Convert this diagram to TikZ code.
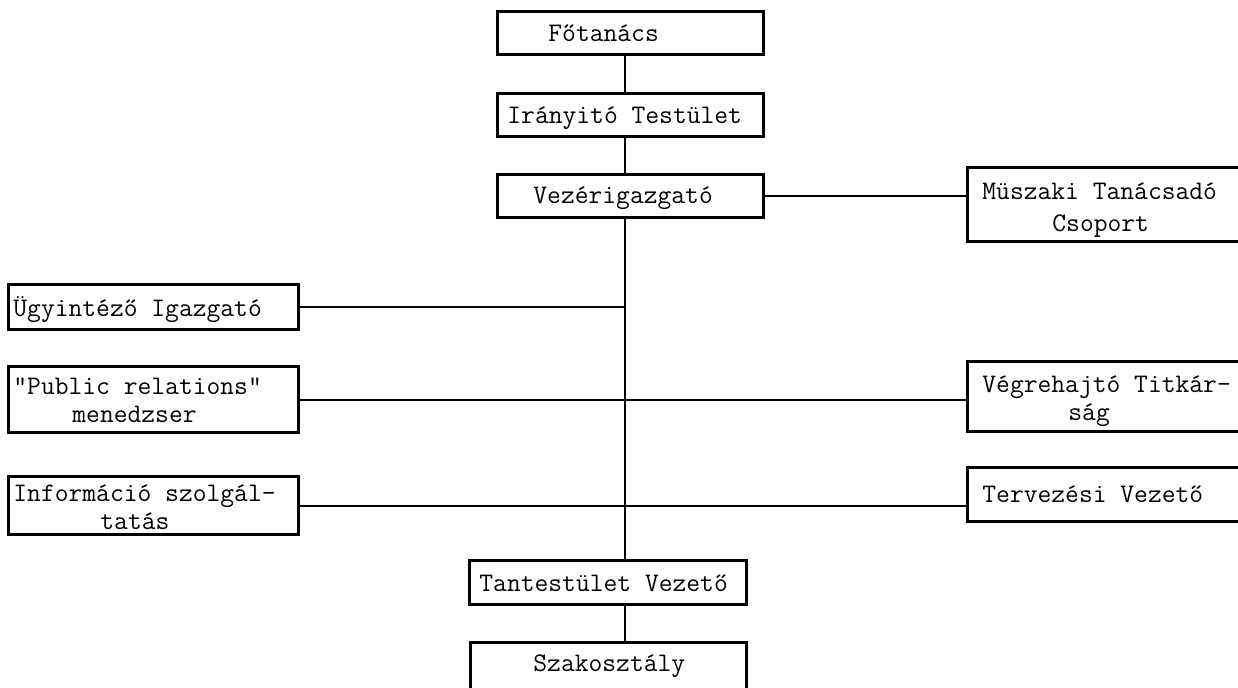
\documentclass[tikz,border=0pt]{standalone}
\usetikzlibrary{fit}
\begin{document}
\begin{tikzpicture}[x=0.5pt,y=-0.5pt,
  box/.style={draw,line width=1.5pt,inner sep=0pt,rectangle},
  lbl/.style={anchor=base west,inner sep=0pt,font=\ttfamily\fontsize{13.4}{16}\selectfont},
  conn/.style={line width=1pt}]
\useasboundingbox (0,0) rectangle (1238,688);
% boxes
\node[box,fit={(497,12) (763,55)}] (fo) {};
\node[box,fit={(497,94) (763,137)}] (ir) {};
\node[box,fit={(497,175) (763,218)}] (vez) {};
\node[box,fit={(967,168) (1250,242)}] (mus) {};
\node[box,fit={(967,362) (1250,432)}] (vegr) {};
\node[box,fit={(967,468) (1250,522)}] (terv) {};
\node[box,fit={(8,285) (298,330)}] (ugy) {};
\node[box,fit={(8,367) (298,433)}] (pr) {};
\node[box,fit={(8,477) (298,535)}] (info) {};
\node[box,fit={(469,561) (746,605)}] (tant) {};
\node[box,fit={(470,643) (746,700)}] (szak) {};
% texts
\node[lbl] (fo-t) at (548,42) {Főtanács};
\node[lbl] (ir-t) at (507,123.5) {Irányitó Testület};
\node[lbl] (vez-t) at (533,204) {Vezérigazgató};
\node[lbl] (mus-t1) at (982,200) {Müszaki Tanácsadó};
\node[lbl] (mus-t2) at (1052,232) {Csoport};
\node[lbl] (vegr-t1) at (982,393) {Végrehajtó Titkár-};
\node[lbl] (vegr-t2) at (1068,421) {ság};
\node[lbl] (terv-t) at (982,503) {Tervezési Vezető};
\node[lbl] (ugy-t) at (13,317) {Ügyintéző Igazgató};
\node[lbl] (pr-t1) at (13,395) {"Public relations"};
\node[lbl] (pr-t2) at (72,423) {menedzser};
\node[lbl] (info-t1) at (13,502) {Információ szolgál-};
\node[lbl] (info-t2) at (100,530) {tatás};
\node[lbl] (tant-t) at (479,592) {Tantestület Vezető};
\node[lbl] (szak-t) at (533,672) {Szakosztály};
% connectors
\coordinate (sp) at (625,0);
\draw[conn] (fo.south -| sp) -- (ir.north -| sp);
\draw[conn] (ir.south -| sp) -- (vez.north -| sp);
\draw[conn] (vez.south -| sp) -- (tant.north -| sp);
\draw[conn] (tant.south -| sp) -- (szak.north -| sp);
\draw[conn] (vez.east) -- (vez.east -| mus.west);
\draw[conn] (ugy.east) -- (ugy.east -| sp);
\draw[conn] (pr.east) -- (pr.east -| vegr.west);
\draw[conn] (info.east) -- (info.east -| terv.west);
\end{tikzpicture}
\end{document}
